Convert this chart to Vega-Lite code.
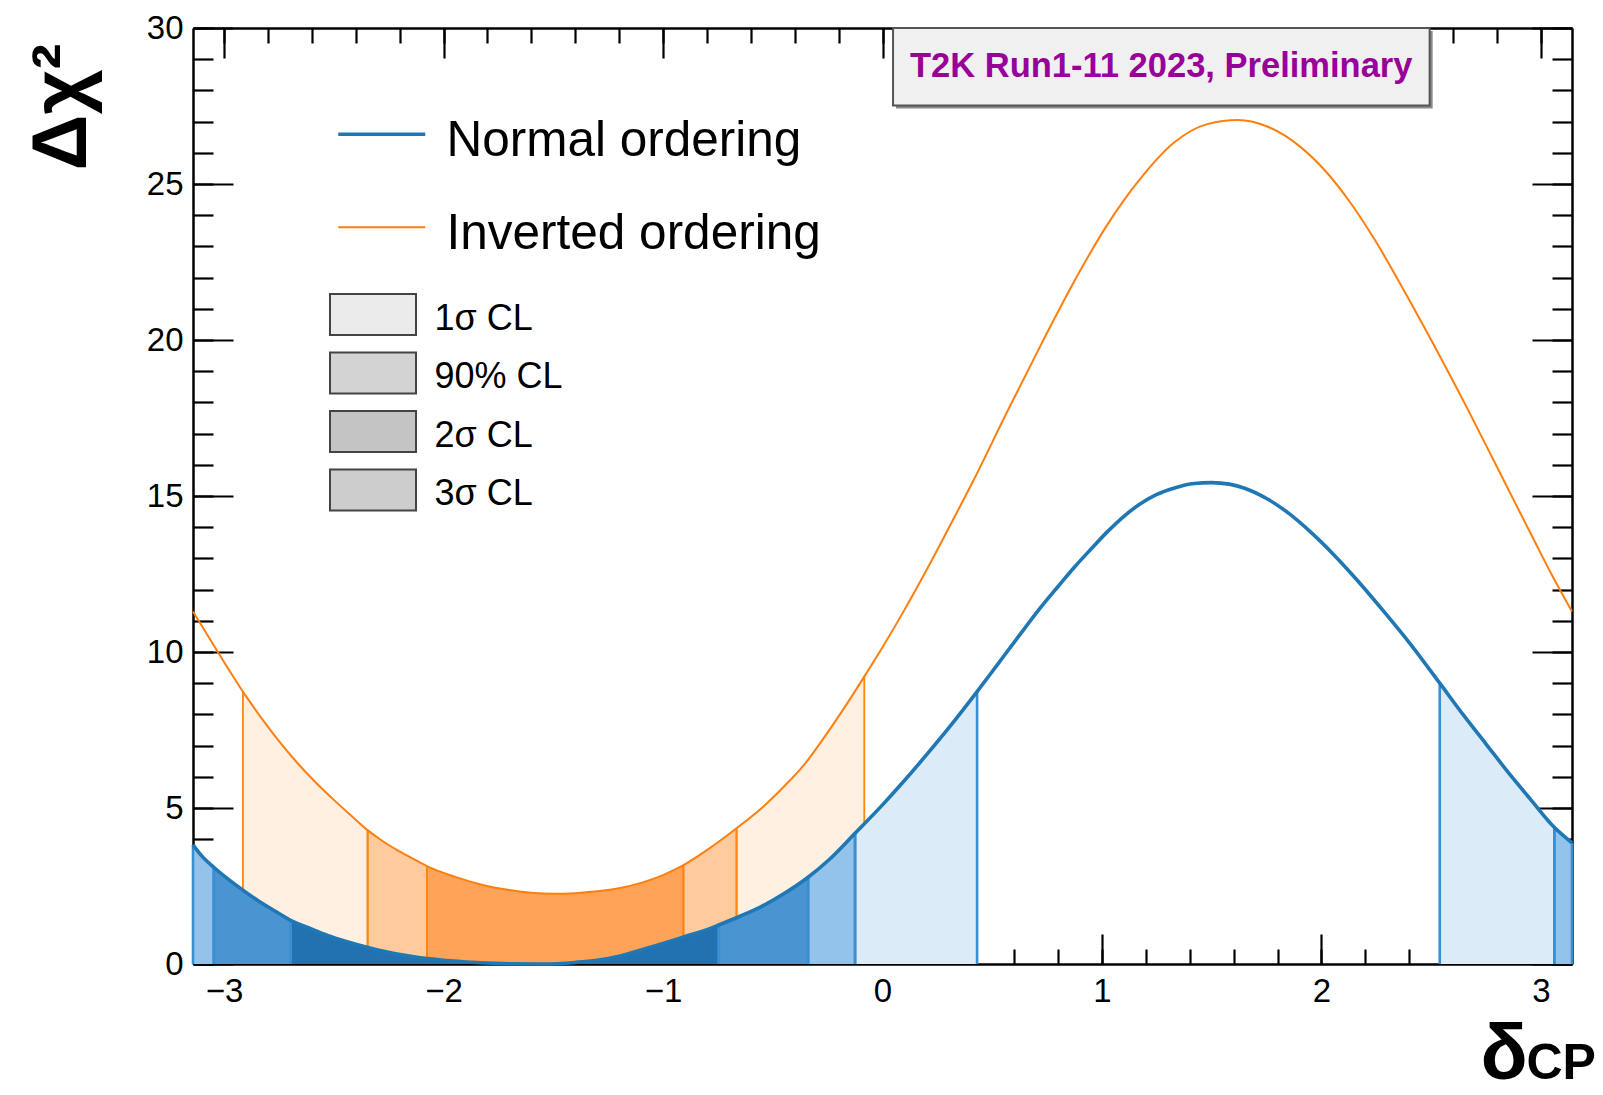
{
  "$schema": "https://vega.github.io/schema/vega-lite/v6.json",
  "width": 1379,
  "height": 936,
  "autosize": {"type": "none"},
  "padding": {"left": 193, "top": 28, "right": 31, "bottom": 131},
  "background": "white",
  "config": {
    "view": {"stroke": null},
    "font": "Liberation Sans",
    "axis": {
      "domainColor": "black", "domainWidth": 2.5, "tickColor": "black", "tickWidth": 2.2,
      "grid": false, "labelFont": "Liberation Sans", "labelColor": "black", "labelFontSize": 33,
      "labelFlush": false, "labelOverlap": false, "titleColor": "black", "titleFont": "Liberation Sans", "zindex": 1
    }
  },
  "datasets": {
    "curves": [
      {"ordering": "Normal ordering", "delta": -3.14159, "chi2": 3.82},
      {"ordering": "Normal ordering", "delta": -3.1, "chi2": 3.45},
      {"ordering": "Normal ordering", "delta": -3.047, "chi2": 3.1},
      {"ordering": "Normal ordering", "delta": -2.95, "chi2": 2.55},
      {"ordering": "Normal ordering", "delta": -2.85, "chi2": 2.05},
      {"ordering": "Normal ordering", "delta": -2.75, "chi2": 1.62},
      {"ordering": "Normal ordering", "delta": -2.697, "chi2": 1.4},
      {"ordering": "Normal ordering", "delta": -2.6, "chi2": 1.12},
      {"ordering": "Normal ordering", "delta": -2.515, "chi2": 0.88},
      {"ordering": "Normal ordering", "delta": -2.4, "chi2": 0.63},
      {"ordering": "Normal ordering", "delta": -2.3, "chi2": 0.45},
      {"ordering": "Normal ordering", "delta": -2.135, "chi2": 0.23},
      {"ordering": "Normal ordering", "delta": -2.0, "chi2": 0.12},
      {"ordering": "Normal ordering", "delta": -1.85, "chi2": 0.05},
      {"ordering": "Normal ordering", "delta": -1.7, "chi2": 0.01},
      {"ordering": "Normal ordering", "delta": -1.55, "chi2": 0.0},
      {"ordering": "Normal ordering", "delta": -1.4, "chi2": 0.05},
      {"ordering": "Normal ordering", "delta": -1.3, "chi2": 0.12},
      {"ordering": "Normal ordering", "delta": -1.2, "chi2": 0.25},
      {"ordering": "Normal ordering", "delta": -1.1, "chi2": 0.45},
      {"ordering": "Normal ordering", "delta": -1.0, "chi2": 0.66},
      {"ordering": "Normal ordering", "delta": -0.9, "chi2": 0.88},
      {"ordering": "Normal ordering", "delta": -0.8, "chi2": 1.1},
      {"ordering": "Normal ordering", "delta": -0.746, "chi2": 1.25},
      {"ordering": "Normal ordering", "delta": -0.65, "chi2": 1.53},
      {"ordering": "Normal ordering", "delta": -0.55, "chi2": 1.85},
      {"ordering": "Normal ordering", "delta": -0.45, "chi2": 2.25},
      {"ordering": "Normal ordering", "delta": -0.339, "chi2": 2.78},
      {"ordering": "Normal ordering", "delta": -0.25, "chi2": 3.3},
      {"ordering": "Normal ordering", "delta": -0.125, "chi2": 4.19},
      {"ordering": "Normal ordering", "delta": 0.0, "chi2": 5.1},
      {"ordering": "Normal ordering", "delta": 0.1, "chi2": 5.88},
      {"ordering": "Normal ordering", "delta": 0.2, "chi2": 6.7},
      {"ordering": "Normal ordering", "delta": 0.3, "chi2": 7.55},
      {"ordering": "Normal ordering", "delta": 0.431, "chi2": 8.73},
      {"ordering": "Normal ordering", "delta": 0.522, "chi2": 9.58},
      {"ordering": "Normal ordering", "delta": 0.62, "chi2": 10.5},
      {"ordering": "Normal ordering", "delta": 0.72, "chi2": 11.42},
      {"ordering": "Normal ordering", "delta": 0.8, "chi2": 12.1},
      {"ordering": "Normal ordering", "delta": 0.872, "chi2": 12.7},
      {"ordering": "Normal ordering", "delta": 0.95, "chi2": 13.3},
      {"ordering": "Normal ordering", "delta": 1.024, "chi2": 13.85},
      {"ordering": "Normal ordering", "delta": 1.1, "chi2": 14.35},
      {"ordering": "Normal ordering", "delta": 1.175, "chi2": 14.75},
      {"ordering": "Normal ordering", "delta": 1.25, "chi2": 15.05},
      {"ordering": "Normal ordering", "delta": 1.327, "chi2": 15.25},
      {"ordering": "Normal ordering", "delta": 1.42, "chi2": 15.4},
      {"ordering": "Normal ordering", "delta": 1.5, "chi2": 15.43},
      {"ordering": "Normal ordering", "delta": 1.58, "chi2": 15.38},
      {"ordering": "Normal ordering", "delta": 1.65, "chi2": 15.25},
      {"ordering": "Normal ordering", "delta": 1.75, "chi2": 14.92},
      {"ordering": "Normal ordering", "delta": 1.85, "chi2": 14.45},
      {"ordering": "Normal ordering", "delta": 1.95, "chi2": 13.85},
      {"ordering": "Normal ordering", "delta": 2.056, "chi2": 13.12},
      {"ordering": "Normal ordering", "delta": 2.163, "chi2": 12.3},
      {"ordering": "Normal ordering", "delta": 2.284, "chi2": 11.3},
      {"ordering": "Normal ordering", "delta": 2.4, "chi2": 10.3},
      {"ordering": "Normal ordering", "delta": 2.539, "chi2": 9.0},
      {"ordering": "Normal ordering", "delta": 2.65, "chi2": 7.95},
      {"ordering": "Normal ordering", "delta": 2.75, "chi2": 7.05},
      {"ordering": "Normal ordering", "delta": 2.85, "chi2": 6.15},
      {"ordering": "Normal ordering", "delta": 2.95, "chi2": 5.3},
      {"ordering": "Normal ordering", "delta": 3.061, "chi2": 4.38},
      {"ordering": "Normal ordering", "delta": 3.14159, "chi2": 3.88},
      {"ordering": "Inverted ordering", "delta": -3.14159, "chi2": 11.3},
      {"ordering": "Inverted ordering", "delta": -3.05, "chi2": 10.25},
      {"ordering": "Inverted ordering", "delta": -2.914, "chi2": 8.73},
      {"ordering": "Inverted ordering", "delta": -2.8, "chi2": 7.6},
      {"ordering": "Inverted ordering", "delta": -2.667, "chi2": 6.45},
      {"ordering": "Inverted ordering", "delta": -2.58, "chi2": 5.8},
      {"ordering": "Inverted ordering", "delta": -2.5, "chi2": 5.26},
      {"ordering": "Inverted ordering", "delta": -2.42, "chi2": 4.75},
      {"ordering": "Inverted ordering", "delta": -2.346, "chi2": 4.29},
      {"ordering": "Inverted ordering", "delta": -2.28, "chi2": 3.95},
      {"ordering": "Inverted ordering", "delta": -2.211, "chi2": 3.65},
      {"ordering": "Inverted ordering", "delta": -2.14, "chi2": 3.38},
      {"ordering": "Inverted ordering", "delta": -2.076, "chi2": 3.14},
      {"ordering": "Inverted ordering", "delta": -1.95, "chi2": 2.8},
      {"ordering": "Inverted ordering", "delta": -1.831, "chi2": 2.55},
      {"ordering": "Inverted ordering", "delta": -1.7, "chi2": 2.37},
      {"ordering": "Inverted ordering", "delta": -1.6, "chi2": 2.28},
      {"ordering": "Inverted ordering", "delta": -1.5, "chi2": 2.25},
      {"ordering": "Inverted ordering", "delta": -1.4, "chi2": 2.27},
      {"ordering": "Inverted ordering", "delta": -1.3, "chi2": 2.33},
      {"ordering": "Inverted ordering", "delta": -1.2, "chi2": 2.43},
      {"ordering": "Inverted ordering", "delta": -1.1, "chi2": 2.6},
      {"ordering": "Inverted ordering", "delta": -1.0, "chi2": 2.85},
      {"ordering": "Inverted ordering", "delta": -0.907, "chi2": 3.17},
      {"ordering": "Inverted ordering", "delta": -0.8, "chi2": 3.65},
      {"ordering": "Inverted ordering", "delta": -0.665, "chi2": 4.35},
      {"ordering": "Inverted ordering", "delta": -0.55, "chi2": 5.0},
      {"ordering": "Inverted ordering", "delta": -0.45, "chi2": 5.68},
      {"ordering": "Inverted ordering", "delta": -0.35, "chi2": 6.45},
      {"ordering": "Inverted ordering", "delta": -0.267, "chi2": 7.25},
      {"ordering": "Inverted ordering", "delta": -0.175, "chi2": 8.2},
      {"ordering": "Inverted ordering", "delta": -0.083, "chi2": 9.21},
      {"ordering": "Inverted ordering", "delta": 0.0, "chi2": 10.15},
      {"ordering": "Inverted ordering", "delta": 0.1, "chi2": 11.35},
      {"ordering": "Inverted ordering", "delta": 0.2, "chi2": 12.62},
      {"ordering": "Inverted ordering", "delta": 0.3, "chi2": 13.95},
      {"ordering": "Inverted ordering", "delta": 0.416, "chi2": 15.52},
      {"ordering": "Inverted ordering", "delta": 0.568, "chi2": 17.7},
      {"ordering": "Inverted ordering", "delta": 0.72, "chi2": 19.82},
      {"ordering": "Inverted ordering", "delta": 0.872, "chi2": 21.86},
      {"ordering": "Inverted ordering", "delta": 1.024, "chi2": 23.69},
      {"ordering": "Inverted ordering", "delta": 1.175, "chi2": 25.17},
      {"ordering": "Inverted ordering", "delta": 1.327, "chi2": 26.32},
      {"ordering": "Inverted ordering", "delta": 1.48, "chi2": 26.92},
      {"ordering": "Inverted ordering", "delta": 1.62, "chi2": 27.05},
      {"ordering": "Inverted ordering", "delta": 1.75, "chi2": 26.85},
      {"ordering": "Inverted ordering", "delta": 1.904, "chi2": 26.19},
      {"ordering": "Inverted ordering", "delta": 2.02, "chi2": 25.4},
      {"ordering": "Inverted ordering", "delta": 2.132, "chi2": 24.4},
      {"ordering": "Inverted ordering", "delta": 2.25, "chi2": 23.13},
      {"ordering": "Inverted ordering", "delta": 2.36, "chi2": 21.79},
      {"ordering": "Inverted ordering", "delta": 2.5, "chi2": 20.0},
      {"ordering": "Inverted ordering", "delta": 2.665, "chi2": 17.8},
      {"ordering": "Inverted ordering", "delta": 2.82, "chi2": 15.65},
      {"ordering": "Inverted ordering", "delta": 2.966, "chi2": 13.62},
      {"ordering": "Inverted ordering", "delta": 3.05, "chi2": 12.47},
      {"ordering": "Inverted ordering", "delta": 3.14159, "chi2": 11.3}
    ],
    "bands": [
      {"ordering": "Normal ordering", "band": "NO-1", "cl": "2σ CL", "delta": -3.14159, "chi2": 3.82},
      {"ordering": "Normal ordering", "band": "NO-1", "cl": "2σ CL", "delta": -3.1, "chi2": 3.45},
      {"ordering": "Normal ordering", "band": "NO-1", "cl": "2σ CL", "delta": -3.047, "chi2": 3.1},
      {"ordering": "Normal ordering", "band": "NO-2", "cl": "90% CL", "delta": -3.047, "chi2": 3.1},
      {"ordering": "Normal ordering", "band": "NO-2", "cl": "90% CL", "delta": -2.95, "chi2": 2.55},
      {"ordering": "Normal ordering", "band": "NO-2", "cl": "90% CL", "delta": -2.85, "chi2": 2.05},
      {"ordering": "Normal ordering", "band": "NO-2", "cl": "90% CL", "delta": -2.75, "chi2": 1.62},
      {"ordering": "Normal ordering", "band": "NO-2", "cl": "90% CL", "delta": -2.697, "chi2": 1.4},
      {"ordering": "Normal ordering", "band": "NO-3", "cl": "1σ CL", "delta": -2.697, "chi2": 1.4},
      {"ordering": "Normal ordering", "band": "NO-3", "cl": "1σ CL", "delta": -2.6, "chi2": 1.12},
      {"ordering": "Normal ordering", "band": "NO-3", "cl": "1σ CL", "delta": -2.515, "chi2": 0.88},
      {"ordering": "Normal ordering", "band": "NO-3", "cl": "1σ CL", "delta": -2.4, "chi2": 0.63},
      {"ordering": "Normal ordering", "band": "NO-3", "cl": "1σ CL", "delta": -2.3, "chi2": 0.45},
      {"ordering": "Normal ordering", "band": "NO-3", "cl": "1σ CL", "delta": -2.135, "chi2": 0.23},
      {"ordering": "Normal ordering", "band": "NO-3", "cl": "1σ CL", "delta": -2.0, "chi2": 0.12},
      {"ordering": "Normal ordering", "band": "NO-3", "cl": "1σ CL", "delta": -1.85, "chi2": 0.05},
      {"ordering": "Normal ordering", "band": "NO-3", "cl": "1σ CL", "delta": -1.7, "chi2": 0.01},
      {"ordering": "Normal ordering", "band": "NO-3", "cl": "1σ CL", "delta": -1.55, "chi2": 0.0},
      {"ordering": "Normal ordering", "band": "NO-3", "cl": "1σ CL", "delta": -1.4, "chi2": 0.05},
      {"ordering": "Normal ordering", "band": "NO-3", "cl": "1σ CL", "delta": -1.3, "chi2": 0.12},
      {"ordering": "Normal ordering", "band": "NO-3", "cl": "1σ CL", "delta": -1.2, "chi2": 0.25},
      {"ordering": "Normal ordering", "band": "NO-3", "cl": "1σ CL", "delta": -1.1, "chi2": 0.45},
      {"ordering": "Normal ordering", "band": "NO-3", "cl": "1σ CL", "delta": -1.0, "chi2": 0.66},
      {"ordering": "Normal ordering", "band": "NO-3", "cl": "1σ CL", "delta": -0.9, "chi2": 0.88},
      {"ordering": "Normal ordering", "band": "NO-3", "cl": "1σ CL", "delta": -0.8, "chi2": 1.1},
      {"ordering": "Normal ordering", "band": "NO-3", "cl": "1σ CL", "delta": -0.746, "chi2": 1.25},
      {"ordering": "Normal ordering", "band": "NO-4", "cl": "90% CL", "delta": -0.746, "chi2": 1.25},
      {"ordering": "Normal ordering", "band": "NO-4", "cl": "90% CL", "delta": -0.65, "chi2": 1.53},
      {"ordering": "Normal ordering", "band": "NO-4", "cl": "90% CL", "delta": -0.55, "chi2": 1.85},
      {"ordering": "Normal ordering", "band": "NO-4", "cl": "90% CL", "delta": -0.45, "chi2": 2.25},
      {"ordering": "Normal ordering", "band": "NO-4", "cl": "90% CL", "delta": -0.339, "chi2": 2.78},
      {"ordering": "Normal ordering", "band": "NO-5", "cl": "2σ CL", "delta": -0.339, "chi2": 2.78},
      {"ordering": "Normal ordering", "band": "NO-5", "cl": "2σ CL", "delta": -0.25, "chi2": 3.3},
      {"ordering": "Normal ordering", "band": "NO-5", "cl": "2σ CL", "delta": -0.125, "chi2": 4.19},
      {"ordering": "Normal ordering", "band": "NO-6", "cl": "3σ CL", "delta": -0.125, "chi2": 4.19},
      {"ordering": "Normal ordering", "band": "NO-6", "cl": "3σ CL", "delta": 0.0, "chi2": 5.1},
      {"ordering": "Normal ordering", "band": "NO-6", "cl": "3σ CL", "delta": 0.1, "chi2": 5.88},
      {"ordering": "Normal ordering", "band": "NO-6", "cl": "3σ CL", "delta": 0.2, "chi2": 6.7},
      {"ordering": "Normal ordering", "band": "NO-6", "cl": "3σ CL", "delta": 0.3, "chi2": 7.55},
      {"ordering": "Normal ordering", "band": "NO-6", "cl": "3σ CL", "delta": 0.431, "chi2": 8.73},
      {"ordering": "Normal ordering", "band": "NO-7", "cl": "3σ CL", "delta": 2.539, "chi2": 9.0},
      {"ordering": "Normal ordering", "band": "NO-7", "cl": "3σ CL", "delta": 2.65, "chi2": 7.95},
      {"ordering": "Normal ordering", "band": "NO-7", "cl": "3σ CL", "delta": 2.75, "chi2": 7.05},
      {"ordering": "Normal ordering", "band": "NO-7", "cl": "3σ CL", "delta": 2.85, "chi2": 6.15},
      {"ordering": "Normal ordering", "band": "NO-7", "cl": "3σ CL", "delta": 2.95, "chi2": 5.3},
      {"ordering": "Normal ordering", "band": "NO-7", "cl": "3σ CL", "delta": 3.061, "chi2": 4.38},
      {"ordering": "Normal ordering", "band": "NO-8", "cl": "2σ CL", "delta": 3.061, "chi2": 4.38},
      {"ordering": "Normal ordering", "band": "NO-8", "cl": "2σ CL", "delta": 3.14159, "chi2": 3.88},
      {"ordering": "Inverted ordering", "band": "IO-1", "cl": "3σ CL", "delta": -2.914, "chi2": 8.73},
      {"ordering": "Inverted ordering", "band": "IO-1", "cl": "3σ CL", "delta": -2.8, "chi2": 7.6},
      {"ordering": "Inverted ordering", "band": "IO-1", "cl": "3σ CL", "delta": -2.667, "chi2": 6.45},
      {"ordering": "Inverted ordering", "band": "IO-1", "cl": "3σ CL", "delta": -2.58, "chi2": 5.8},
      {"ordering": "Inverted ordering", "band": "IO-1", "cl": "3σ CL", "delta": -2.5, "chi2": 5.26},
      {"ordering": "Inverted ordering", "band": "IO-1", "cl": "3σ CL", "delta": -2.42, "chi2": 4.75},
      {"ordering": "Inverted ordering", "band": "IO-1", "cl": "3σ CL", "delta": -2.346, "chi2": 4.29},
      {"ordering": "Inverted ordering", "band": "IO-2", "cl": "2σ CL", "delta": -2.346, "chi2": 4.29},
      {"ordering": "Inverted ordering", "band": "IO-2", "cl": "2σ CL", "delta": -2.28, "chi2": 3.95},
      {"ordering": "Inverted ordering", "band": "IO-2", "cl": "2σ CL", "delta": -2.211, "chi2": 3.65},
      {"ordering": "Inverted ordering", "band": "IO-2", "cl": "2σ CL", "delta": -2.14, "chi2": 3.38},
      {"ordering": "Inverted ordering", "band": "IO-2", "cl": "2σ CL", "delta": -2.076, "chi2": 3.14},
      {"ordering": "Inverted ordering", "band": "IO-3", "cl": "90% CL", "delta": -2.076, "chi2": 3.14},
      {"ordering": "Inverted ordering", "band": "IO-3", "cl": "90% CL", "delta": -1.95, "chi2": 2.8},
      {"ordering": "Inverted ordering", "band": "IO-3", "cl": "90% CL", "delta": -1.831, "chi2": 2.55},
      {"ordering": "Inverted ordering", "band": "IO-3", "cl": "90% CL", "delta": -1.7, "chi2": 2.37},
      {"ordering": "Inverted ordering", "band": "IO-3", "cl": "90% CL", "delta": -1.6, "chi2": 2.28},
      {"ordering": "Inverted ordering", "band": "IO-3", "cl": "90% CL", "delta": -1.5, "chi2": 2.25},
      {"ordering": "Inverted ordering", "band": "IO-3", "cl": "90% CL", "delta": -1.4, "chi2": 2.27},
      {"ordering": "Inverted ordering", "band": "IO-3", "cl": "90% CL", "delta": -1.3, "chi2": 2.33},
      {"ordering": "Inverted ordering", "band": "IO-3", "cl": "90% CL", "delta": -1.2, "chi2": 2.43},
      {"ordering": "Inverted ordering", "band": "IO-3", "cl": "90% CL", "delta": -1.1, "chi2": 2.6},
      {"ordering": "Inverted ordering", "band": "IO-3", "cl": "90% CL", "delta": -1.0, "chi2": 2.85},
      {"ordering": "Inverted ordering", "band": "IO-3", "cl": "90% CL", "delta": -0.907, "chi2": 3.17},
      {"ordering": "Inverted ordering", "band": "IO-4", "cl": "2σ CL", "delta": -0.907, "chi2": 3.17},
      {"ordering": "Inverted ordering", "band": "IO-4", "cl": "2σ CL", "delta": -0.8, "chi2": 3.65},
      {"ordering": "Inverted ordering", "band": "IO-4", "cl": "2σ CL", "delta": -0.665, "chi2": 4.35},
      {"ordering": "Inverted ordering", "band": "IO-5", "cl": "3σ CL", "delta": -0.665, "chi2": 4.35},
      {"ordering": "Inverted ordering", "band": "IO-5", "cl": "3σ CL", "delta": -0.55, "chi2": 5.0},
      {"ordering": "Inverted ordering", "band": "IO-5", "cl": "3σ CL", "delta": -0.45, "chi2": 5.68},
      {"ordering": "Inverted ordering", "band": "IO-5", "cl": "3σ CL", "delta": -0.35, "chi2": 6.45},
      {"ordering": "Inverted ordering", "band": "IO-5", "cl": "3σ CL", "delta": -0.267, "chi2": 7.25},
      {"ordering": "Inverted ordering", "band": "IO-5", "cl": "3σ CL", "delta": -0.175, "chi2": 8.2},
      {"ordering": "Inverted ordering", "band": "IO-5", "cl": "3σ CL", "delta": -0.083, "chi2": 9.21}
    ],
    "note": [{"text": "T2K Run1-11 2023, Preliminary"}]
  },
  "data": {"name": "curves"},
  "resolve": {"axis": {"x": "independent", "y": "independent"}, "scale": {"fill": "independent"}},
  "layer": [
    {
      "data": {"name": "bands"},
      "transform": [{"filter": "datum.ordering === 'Inverted ordering'"}],
      "mark": {"type": "area", "interpolate": "monotone"},
      "encoding": {
        "x": {"field": "delta", "type": "quantitative", "scale": {"domain": [-3.14159, 3.14159], "nice": false, "zero": false}, "axis": null},
        "y": {"field": "chi2", "type": "quantitative", "stack": null, "scale": {"domain": [0, 30], "nice": false, "zero": false}, "axis": null},
        "detail": {"field": "band"},
        "fill": {"field": "cl", "type": "nominal", "scale": {"domain": ["1σ CL", "90% CL", "2σ CL", "3σ CL"], "range": ["#ff7f0e", "#ffa358", "#ffcb9e", "#fff0e2"]}, "legend": null}
      }
    },
    {
      "data": {"name": "bands"},
      "transform": [
        {"filter": "datum.ordering === 'Inverted ordering'"},
        {"joinaggregate": [{"op": "min", "field": "delta", "as": "lo"}, {"op": "max", "field": "delta", "as": "hi"}], "groupby": ["band"]},
        {"filter": "datum.delta === datum.lo || datum.delta === datum.hi"}
      ],
      "mark": {"type": "rule", "color": "#ff850f", "strokeWidth": 1.8},
      "encoding": {
        "x": {"field": "delta", "type": "quantitative", "scale": {"domain": [-3.14159, 3.14159], "nice": false, "zero": false}, "axis": null},
        "y": {"field": "chi2", "type": "quantitative", "scale": {"domain": [0, 30], "nice": false, "zero": false}, "axis": null},
        "y2": {"datum": 0}
      }
    },
    {
      "data": {"name": "bands"},
      "transform": [{"filter": "datum.ordering === 'Normal ordering'"}],
      "mark": {"type": "area", "interpolate": "monotone"},
      "encoding": {
        "x": {"field": "delta", "type": "quantitative", "scale": {"domain": [-3.14159, 3.14159], "nice": false, "zero": false}, "axis": null},
        "y": {"field": "chi2", "type": "quantitative", "stack": null, "scale": {"domain": [0, 30], "nice": false, "zero": false}, "axis": null},
        "detail": {"field": "band"},
        "fill": {"field": "cl", "type": "nominal", "scale": {"domain": ["1σ CL", "90% CL", "2σ CL", "3σ CL"], "range": ["#2272b2", "#4a95d1", "#93c3ea", "#dbebf8"]}, "legend": null}
      }
    },
    {
      "data": {"name": "bands"},
      "transform": [
        {"filter": "datum.ordering === 'Normal ordering'"},
        {"joinaggregate": [{"op": "min", "field": "delta", "as": "lo"}, {"op": "max", "field": "delta", "as": "hi"}], "groupby": ["band"]},
        {"filter": "datum.delta === datum.lo || datum.delta === datum.hi"}
      ],
      "mark": {"type": "rule", "color": "#3a8fd0", "strokeWidth": 2.6},
      "encoding": {
        "x": {"field": "delta", "type": "quantitative", "scale": {"domain": [-3.14159, 3.14159], "nice": false, "zero": false}, "axis": null},
        "y": {"field": "chi2", "type": "quantitative", "scale": {"domain": [0, 30], "nice": false, "zero": false}, "axis": null},
        "y2": {"datum": 0}
      }
    },
    {
      "mark": {"type": "line", "interpolate": "monotone"},
      "encoding": {
        "x": {"field": "delta", "type": "quantitative", "scale": {"domain": [-3.14159, 3.14159], "nice": false, "zero": false}, "axis": null},
        "y": {"field": "chi2", "type": "quantitative", "scale": {"domain": [0, 30], "nice": false, "zero": false}, "axis": null},
        "color": {
          "field": "ordering", "type": "nominal",
          "scale": {"domain": ["Normal ordering", "Inverted ordering"], "range": ["#1f77b4", "#ff7f0e"]},
          "legend": {"orient": "none", "legendX": 164, "legendY": 81.5, "title": null, "symbolType": "M-2,0H2", "symbolSize": 1892, "labelFontSize": 49.5, "labelFont": "Liberation Sans", "labelColor": "black", "labelOffset": 40, "rowPadding": 36, "padding": 0, "labelLimit": 1000, "encode": {"labels": {"update": {"dy": {"value": 7}}}}}
        },
        "strokeWidth": {
          "field": "ordering", "type": "nominal",
          "scale": {"domain": ["Normal ordering", "Inverted ordering"], "range": [3.6, 2]},
          "legend": {"orient": "none", "legendX": 164, "legendY": 81.5, "title": null, "symbolType": "M-2,0H2", "symbolSize": 1892, "labelFontSize": 49.5, "labelFont": "Liberation Sans", "labelColor": "black", "labelOffset": 40, "rowPadding": 36, "padding": 0, "labelLimit": 1000, "encode": {"labels": {"update": {"dy": {"value": 7}}}}}
        }
      }
    },
    {
      "data": {"name": "bands"},
      "transform": [{"filter": "false"}],
      "mark": {"type": "point", "filled": true},
      "encoding": {
        "x": {"field": "delta", "type": "quantitative", "scale": {"domain": [-3.14159, 3.14159], "nice": false, "zero": false}, "axis": null},
        "y": {"field": "chi2", "type": "quantitative", "scale": {"domain": [0, 30], "nice": false, "zero": false}, "axis": null},
        "fill": {
          "field": "cl", "type": "nominal",
          "scale": {"domain": ["1σ CL", "90% CL", "2σ CL", "3σ CL"], "range": ["#ebebeb", "#d3d3d3", "#c4c4c4", "#cdcdcd"]},
          "legend": {
            "orient": "none", "legendX": 157.5, "legendY": 264, "title": null,
            "symbolType": "M-2,-0.95H2V0.95H-2Z", "symbolSize": 1849, "symbolStrokeColor": "#444444", "symbolStrokeWidth": 2, "symbolOpacity": 1,
            "labelFontSize": 36, "labelFont": "Liberation Sans", "labelColor": "black", "labelOffset": 39, "rowPadding": 9.5, "padding": 0, "labelLimit": 1000,
            "encode": {"labels": {"update": {"dy": {"value": 4}}}}
          }
        }
      }
    },
    {
      "data": {"name": "note"},
      "mark": {"type": "rect", "fill": "#8a8a8a", "xOffset": 3, "x2Offset": 3, "yOffset": 3, "y2Offset": 3},
      "encoding": {
        "x": {"datum": 0.048, "type": "quantitative", "scale": {"domain": [-3.14159, 3.14159], "nice": false, "zero": false}, "axis": null},
        "x2": {"datum": 2.493},
        "y": {"datum": 27.52, "type": "quantitative", "scale": {"domain": [0, 30], "nice": false, "zero": false}, "axis": null},
        "y2": {"datum": 30}
      }
    },
    {
      "data": {"name": "note"},
      "mark": {"type": "rect", "fill": "#f0f0f0", "stroke": "#555555", "strokeWidth": 2},
      "encoding": {
        "x": {"datum": 0.048, "type": "quantitative", "scale": {"domain": [-3.14159, 3.14159], "nice": false, "zero": false}, "axis": null},
        "x2": {"datum": 2.493},
        "y": {"datum": 27.52, "type": "quantitative", "scale": {"domain": [0, 30], "nice": false, "zero": false}, "axis": null},
        "y2": {"datum": 30}
      }
    },
    {
      "data": {"name": "note"},
      "mark": {"type": "text", "font": "Liberation Sans", "fontWeight": "bold", "fontSize": 34.5, "color": "#990099", "align": "center", "baseline": "middle"},
      "encoding": {
        "x": {"datum": 1.27, "type": "quantitative", "scale": {"domain": [-3.14159, 3.14159], "nice": false, "zero": false}, "axis": null},
        "y": {"datum": 28.76, "type": "quantitative", "scale": {"domain": [0, 30], "nice": false, "zero": false}, "axis": null},
        "text": {"field": "text"}
      }
    },
    {
      "transform": [{"filter": "false"}],
      "mark": {"type": "point"},
      "encoding": {
        "x": {"field": "delta", "type": "quantitative", "scale": {"domain": [-3.14159, 3.14159], "nice": false, "zero": false},
          "axis": {"orient": "bottom", "values": [-3, -2, -1, 0, 1, 2, 3], "tickSize": -30, "labelPadding": 41, "domain": true,
            "title": "δ", "titleFontSize": 78, "titleFontWeight": "bold", "titleAngle": 0, "titleAlign": "left", "titleBaseline": "alphabetic", "titleX": 1287, "titleY": 114}},
        "y": {"field": "chi2", "type": "quantitative", "scale": {"domain": [0, 30], "nice": false, "zero": false},
          "axis": {"orient": "left", "values": [0, 5, 10, 15, 20, 25, 30], "tickSize": -40, "labelPadding": 50, "domain": true,
            "title": "Δχ²", "titleFontSize": 78, "titleFontWeight": "bold", "titleAngle": 270, "titleAlign": "right", "titleBaseline": "alphabetic", "titleX": -108, "titleY": 15}}
      }
    },
    {
      "transform": [{"filter": "false"}],
      "mark": {"type": "point"},
      "encoding": {
        "x": {"field": "delta", "type": "quantitative", "scale": {"domain": [-3.14159, 3.14159], "nice": false, "zero": false},
          "axis": {"orient": "bottom", "values": [-3, -2.8, -2.6, -2.4, -2.2, -2, -1.8, -1.6, -1.4, -1.2, -1, -0.8, -0.6, -0.4, -0.2, 0, 0.2, 0.4, 0.6, 0.8, 1, 1.2, 1.4, 1.6, 1.8, 2, 2.2, 2.4, 2.6, 2.8, 3], "tickSize": -15, "labels": false, "domain": false,
            "title": "CP", "titleFontSize": 50, "titleFontWeight": "bold", "titleAngle": 0, "titleAlign": "left", "titleBaseline": "alphabetic", "titleX": 1333, "titleY": 114}},
        "y": {"field": "chi2", "type": "quantitative", "scale": {"domain": [0, 30], "nice": false, "zero": false},
          "axis": {"orient": "left", "values": [0, 1, 2, 3, 4, 5, 6, 7, 8, 9, 10, 11, 12, 13, 14, 15, 16, 17, 18, 19, 20, 21, 22, 23, 24, 25, 26, 27, 28, 29, 30], "tickSize": -20, "labels": false, "domain": false, "title": null}}
      }
    },
    {
      "transform": [{"filter": "false"}],
      "mark": {"type": "point"},
      "encoding": {
        "x": {"field": "delta", "type": "quantitative", "scale": {"domain": [-3.14159, 3.14159], "nice": false, "zero": false},
          "axis": {"orient": "top", "values": [-3, -2, -1, 0, 1, 2, 3], "tickSize": -30, "labels": false, "domain": true, "title": null, "zindex": 0}},
        "y": {"field": "chi2", "type": "quantitative", "scale": {"domain": [0, 30], "nice": false, "zero": false},
          "axis": {"orient": "right", "values": [0, 5, 10, 15, 20, 25, 30], "tickSize": -40, "labels": false, "domain": true, "title": null}}
      }
    },
    {
      "transform": [{"filter": "false"}],
      "mark": {"type": "point"},
      "encoding": {
        "x": {"field": "delta", "type": "quantitative", "scale": {"domain": [-3.14159, 3.14159], "nice": false, "zero": false},
          "axis": {"orient": "top", "values": [-3, -2.8, -2.6, -2.4, -2.2, -2, -1.8, -1.6, -1.4, -1.2, -1, -0.8, -0.6, -0.4, -0.2, 0, 0.2, 0.4, 0.6, 0.8, 1, 1.2, 1.4, 1.6, 1.8, 2, 2.2, 2.4, 2.6, 2.8, 3], "tickSize": -15, "labels": false, "domain": false, "title": null, "zindex": 0}},
        "y": {"field": "chi2", "type": "quantitative", "scale": {"domain": [0, 30], "nice": false, "zero": false},
          "axis": {"orient": "right", "values": [0, 1, 2, 3, 4, 5, 6, 7, 8, 9, 10, 11, 12, 13, 14, 15, 16, 17, 18, 19, 20, 21, 22, 23, 24, 25, 26, 27, 28, 29, 30], "tickSize": -20, "labels": false, "domain": false, "title": null}}
      }
    }
  ]
}
